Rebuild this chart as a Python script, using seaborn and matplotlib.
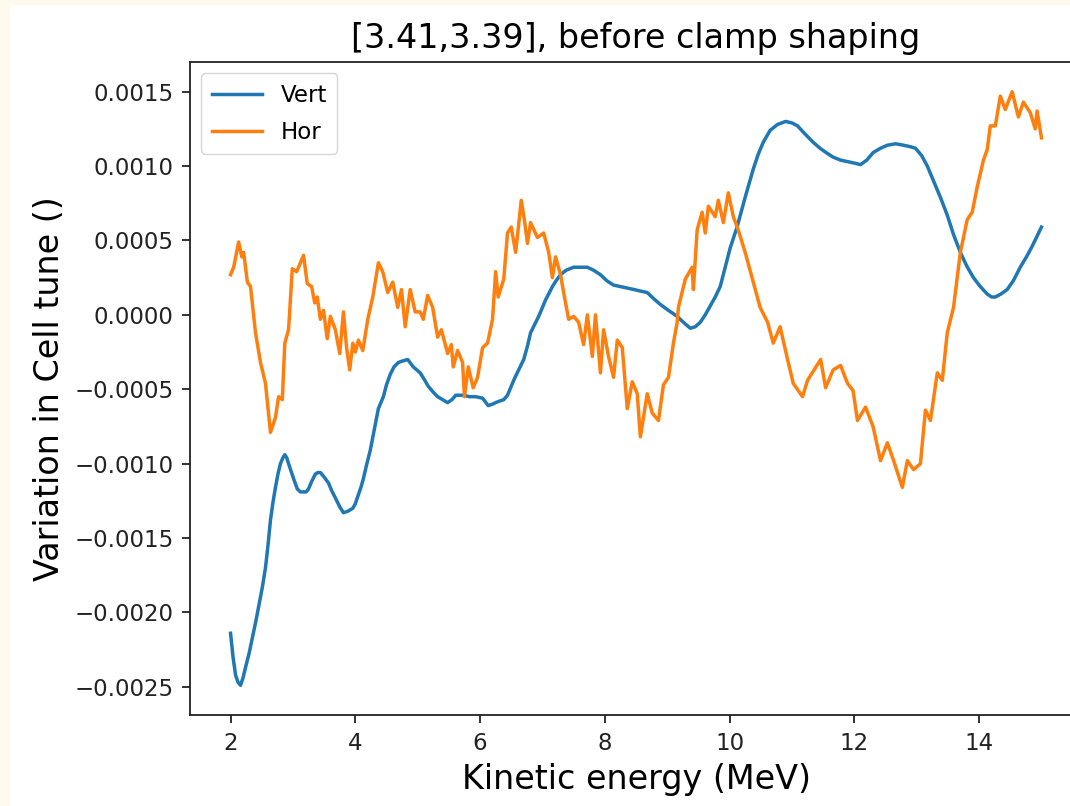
import numpy as np
import pandas as pd
import matplotlib
matplotlib.use("Agg")
import matplotlib.pyplot as plt
from matplotlib.patches import Rectangle
import seaborn as sns

# Kinetic energy (MeV) and vertical cell-tune variation (units of 1e-3)
vert_energy = [2.00, 2.04, 2.08, 2.12, 2.16, 2.20, 2.24, 2.30, 2.35, 2.41,
               2.46, 2.51, 2.56, 2.60, 2.64, 2.68, 2.72, 2.76, 2.80, 2.84,
               2.87, 2.90, 2.93, 2.97, 3.01, 3.07, 3.12, 3.17, 3.21, 3.25,
               3.30, 3.36, 3.40, 3.44, 3.50, 3.57, 3.62, 3.68, 3.75, 3.81,
               3.88, 3.96, 4.00, 4.04, 4.09, 4.13, 4.18, 4.24, 4.30, 4.37,
               4.45, 4.50, 4.56, 4.62, 4.69, 4.76, 4.84, 4.93, 5.04, 5.10,
               5.17, 5.25, 5.32, 5.40, 5.48, 5.55, 5.61, 5.67, 5.73, 5.83,
               5.93, 6.04, 6.13, 6.20, 6.25, 6.31, 6.38, 6.44, 6.49, 6.55,
               6.62, 6.70, 6.76, 6.81, 6.88, 6.94, 7.05, 7.16, 7.22, 7.29,
               7.38, 7.50, 7.60, 7.72, 7.82, 7.93, 8.03, 8.14, 8.25, 8.36,
               8.47, 8.57, 8.68, 8.78, 8.89, 9.02, 9.16, 9.26, 9.37, 9.45,
               9.53, 9.61, 9.69, 9.77, 9.85, 9.93, 10.01, 10.12, 10.25, 10.38,
               10.46, 10.54, 10.65, 10.77, 10.90, 11.00, 11.09, 11.20, 11.34, 11.45,
               11.55, 11.66, 11.78, 11.89, 12.00, 12.10, 12.20, 12.30, 12.42, 12.53,
               12.66, 12.79, 12.90, 12.98, 13.08, 13.17, 13.28, 13.38, 13.49, 13.59,
               13.70, 13.80, 13.91, 14.02, 14.13, 14.20, 14.26, 14.35, 14.45, 14.55,
               14.66, 14.76, 14.85, 14.93, 15.00]
vert_tune = [-2.14, -2.30, -2.42, -2.47, -2.49, -2.44, -2.37, -2.27, -2.17, -2.05,
             -1.94, -1.83, -1.70, -1.55, -1.38, -1.26, -1.16, -1.07, -1.00, -0.96,
             -0.94, -0.96, -1.00, -1.05, -1.10, -1.17, -1.19, -1.19, -1.19, -1.17,
             -1.12, -1.07, -1.06, -1.06, -1.09, -1.13, -1.18, -1.23, -1.29, -1.33,
             -1.32, -1.30, -1.27, -1.22, -1.16, -1.10, -1.01, -0.91, -0.78, -0.63,
             -0.55, -0.47, -0.40, -0.35, -0.32, -0.31, -0.30, -0.35, -0.39, -0.43,
             -0.48, -0.52, -0.55, -0.57, -0.59, -0.57, -0.54, -0.54, -0.54, -0.55,
             -0.55, -0.56, -0.61, -0.60, -0.59, -0.58, -0.57, -0.54, -0.49, -0.43,
             -0.37, -0.30, -0.21, -0.12, -0.06, -0.01, 0.10, 0.19, 0.23, 0.27,
             0.30, 0.32, 0.32, 0.32, 0.30, 0.27, 0.23, 0.20, 0.19, 0.18,
             0.17, 0.16, 0.15, 0.11, 0.07, 0.03, -0.01, -0.05, -0.09, -0.08,
             -0.05, 0.00, 0.06, 0.12, 0.19, 0.32, 0.45, 0.59, 0.79, 0.98,
             1.08, 1.16, 1.24, 1.28, 1.30, 1.29, 1.27, 1.22, 1.16, 1.12,
             1.09, 1.06, 1.04, 1.03, 1.02, 1.01, 1.04, 1.09, 1.12, 1.14,
             1.15, 1.14, 1.13, 1.12, 1.07, 1.00, 0.89, 0.79, 0.67, 0.54,
             0.42, 0.33, 0.25, 0.19, 0.14, 0.12, 0.12, 0.14, 0.17, 0.23,
             0.32, 0.39, 0.46, 0.53, 0.59]

# Kinetic energy (MeV) and horizontal cell-tune variation (units of 1e-3)
hor_energy = [2.00, 2.05, 2.13, 2.18, 2.21, 2.27, 2.32, 2.40, 2.48, 2.56,
              2.64, 2.72, 2.77, 2.83, 2.87, 2.93, 2.99, 3.06, 3.17, 3.23,
              3.30, 3.35, 3.39, 3.44, 3.49, 3.55, 3.60, 3.68, 3.75, 3.81,
              3.86, 3.91, 3.96, 4.00, 4.05, 4.12, 4.20, 4.28, 4.37, 4.44,
              4.52, 4.60, 4.68, 4.74, 4.80, 4.88, 4.96, 5.04, 5.09, 5.16,
              5.24, 5.32, 5.38, 5.48, 5.54, 5.57, 5.64, 5.72, 5.75, 5.81,
              5.89, 5.96, 6.04, 6.12, 6.20, 6.25, 6.29, 6.38, 6.44, 6.50,
              6.57, 6.62, 6.66, 6.71, 6.76, 6.81, 6.92, 7.02, 7.10, 7.16,
              7.21, 7.29, 7.34, 7.42, 7.50, 7.58, 7.66, 7.72, 7.80, 7.85,
              7.93, 7.98, 8.06, 8.14, 8.20, 8.28, 8.36, 8.44, 8.52, 8.57,
              8.68, 8.76, 8.86, 8.94, 9.02, 9.10, 9.16, 9.18, 9.29, 9.40,
              9.42, 9.48, 9.56, 9.61, 9.66, 9.77, 9.82, 9.90, 9.98, 10.06,
              10.14, 10.25, 10.38, 10.49, 10.61, 10.70, 10.81, 10.93, 11.02, 11.17,
              11.25, 11.46, 11.54, 11.66, 11.78, 11.89, 11.98, 12.05, 12.18, 12.30,
              12.42, 12.53, 12.63, 12.77, 12.85, 12.95, 13.06, 13.14, 13.22, 13.33,
              13.41, 13.49, 13.59, 13.70, 13.81, 13.89, 13.97, 14.07, 14.13, 14.18,
              14.26, 14.34, 14.42, 14.53, 14.63, 14.71, 14.82, 14.90, 14.93, 15.00]
hor_tune = [0.27, 0.32, 0.49, 0.39, 0.42, 0.22, 0.19, -0.12, -0.32, -0.46,
            -0.79, -0.69, -0.55, -0.57, -0.19, -0.10, 0.31, 0.29, 0.40, 0.21,
            0.19, 0.08, 0.12, -0.03, 0.03, -0.16, -0.01, -0.10, -0.26, 0.02,
            -0.22, -0.37, -0.19, -0.25, -0.17, -0.24, -0.03, 0.12, 0.35, 0.29,
            0.15, 0.22, 0.05, 0.17, -0.08, 0.17, 0.02, 0.02, -0.03, 0.13,
            0.05, -0.15, -0.10, -0.26, -0.20, -0.35, -0.24, -0.32, -0.55, -0.35,
            -0.49, -0.42, -0.22, -0.19, -0.03, 0.29, 0.12, 0.24, 0.55, 0.59,
            0.42, 0.61, 0.77, 0.64, 0.48, 0.62, 0.52, 0.55, 0.42, 0.25,
            0.39, 0.27, 0.15, -0.03, -0.01, -0.05, -0.20, 0.00, -0.28, 0.00,
            -0.39, -0.10, -0.28, -0.42, -0.17, -0.22, -0.63, -0.45, -0.53, -0.82,
            -0.53, -0.66, -0.71, -0.47, -0.42, -0.19, -0.05, 0.05, 0.24, 0.32,
            0.17, 0.57, 0.69, 0.55, 0.73, 0.66, 0.77, 0.62, 0.82, 0.66,
            0.57, 0.42, 0.22, 0.05, -0.05, -0.19, -0.08, -0.30, -0.46, -0.55,
            -0.44, -0.30, -0.49, -0.37, -0.34, -0.46, -0.51, -0.71, -0.62, -0.75,
            -0.98, -0.86, -0.98, -1.16, -0.98, -1.04, -1.00, -0.64, -0.71, -0.39,
            -0.44, -0.12, 0.05, 0.42, 0.64, 0.69, 0.86, 1.04, 1.11, 1.27,
            1.27, 1.47, 1.38, 1.50, 1.33, 1.43, 1.36, 1.25, 1.37, 1.19]

series_names = ["Vert", "Hor"]
series_colors = ["#1f77b4", "#ff7f0e"]

df = pd.concat([
    pd.DataFrame({"energy": vert_energy,
                  "tune": np.array(vert_tune) * 1e-3,
                  "plane": series_names[0]}),
    pd.DataFrame({"energy": hor_energy,
                  "tune": np.array(hor_tune) * 1e-3,
                  "plane": series_names[1]}),
], ignore_index=True)

W, H = 1070, 806
fig = plt.figure(figsize=(W / 100, H / 100), dpi=100)
fig.patch.set_facecolor("#fdf9ec")
# white canvas inset from the top-left border
fig.patches.append(Rectangle((10 / W, 0), 1, (H - 5) / H,
                             transform=fig.transFigure, facecolor="white",
                             edgecolor="none", zorder=-10))

ax = fig.add_axes([190 / W, (H - 715) / H, (1082 - 190) / W, (715 - 62) / H])
sns.lineplot(data=df, x="energy", y="tune", hue="plane",
             hue_order=series_names, palette=series_colors,
             estimator=None, sort=True, linewidth=2.5, ax=ax)

ax.set_title("[3.41,3.39], before clamp shaping", fontsize=24, pad=10)
ax.set_xlabel("Kinetic energy (MeV)", fontsize=24, labelpad=6)
ax.set_ylabel("Variation in Cell tune ()", fontsize=24, labelpad=6)
ax.set_xticks([2, 4, 6, 8, 10, 12, 14])
ax.set_yticks([-0.0025, -0.0020, -0.0015, -0.0010, -0.0005, 0.0, 0.0005, 0.0010, 0.0015])
ax.tick_params(axis="both", labelsize=16.5, length=6, width=1.3,
               color="#222222", labelcolor="#222222", pad=6)
for sp in ax.spines.values():
    sp.set_linewidth(1.3)
    sp.set_color("#222222")

ax.legend(loc="upper left", fontsize=16.5, frameon=True, framealpha=0.8,
          edgecolor="#cccccc", handlelength=2.2, labelspacing=0.6,
          borderpad=0.45)

fig.savefig("out.png", dpi=100, facecolor=fig.get_facecolor())
